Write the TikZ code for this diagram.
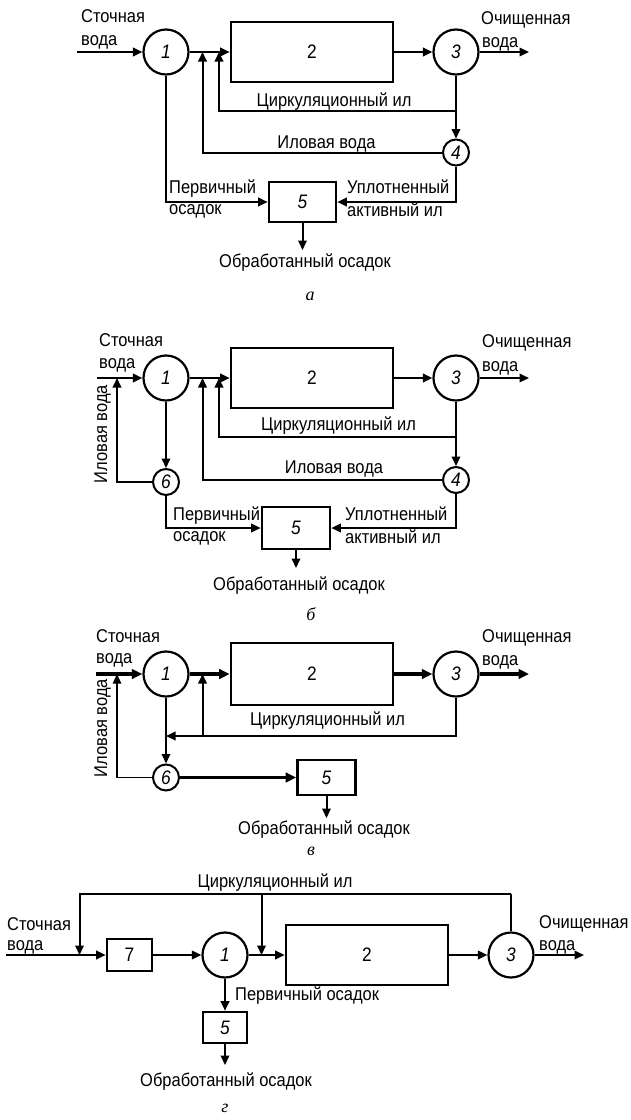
\documentclass[tikz,border=0pt]{standalone}
\usepackage{fontspec}
\setmainfont[FakeStretch=0.89]{Liberation Sans}
\newfontfamily\figserif{Liberation Serif}
\usetikzlibrary{arrows.meta}
\begin{document}
\begin{tikzpicture}[x=1pt,y=-1pt,
  every node/.style={inner sep=0pt},
  lab/.style={font=\fontsize{18.5}{20}\selectfont},
  lw/.style={anchor=base west, lab},
  lc/.style={anchor=base, lab},
  vlab/.style={lab, rotate=90, anchor=base},
  num/.style={font=\fontsize{19.5}{20}\selectfont\itshape},
  nup/.style={font=\fontsize{19.5}{20}\selectfont},
  figlab/.style={anchor=base, font=\figserif\itshape\fontsize{18}{20}\selectfont},
  bigc/.style={circle, draw, line width=2.2pt, minimum size=45pt},
  smc/.style={circle, draw, line width=2pt, minimum size=26pt},
  bx/.style={rectangle, draw, line width=2.6pt},
  ln/.style={line width=2pt},
  arr/.style={ln, -{Triangle[length=9.5pt,width=8.5pt]}},
  tk/.style={line width=3.4pt, -{Triangle[length=10.5pt,width=9.5pt]}},
  thn/.style={line width=1.3pt, -{Triangle[length=9.5pt,width=8.5pt]}}
]
\path[use as bounding box, fill=white] (0,0) rectangle (631,1120);

% ---------------- panel a ----------------
\coordinate (ina) at (77,52);
\node[bigc,num] (c1a) at (166,52) {1};
\node[bx,nup,minimum width=162pt,minimum height=60pt] (b2a) at (312,52) {2};
\node[bigc,num] (c3a) at (456,52) {3};
\coordinate (outa) at (529,52);
\node[smc,num] (c4a) at (456,152.5) {4};
\node[bx,num,minimum width=67pt,minimum height=40pt] (b5a) at (302.5,202) {5};
\coordinate (ka) at (456,111);
\coordinate (ra1) at (219,52);
\coordinate (ra2) at (202.5,52);
\coordinate (oa) at (302.5,250);
\draw[arr] (ina) -- (c1a);
\draw[arr] (c1a) -- (b2a);
\draw[arr] (b2a) -- (c3a);
\draw[arr] (c3a) -- (outa);
\draw[arr] (c3a) -- (c4a);
\draw[arr] (ka) -| (ra1);
\draw[arr] (c4a) -| (ra2);
\draw[arr] (c1a) |- (b5a);
\draw[arr] (c4a) |- (b5a);
\draw[arr] (b5a) -- (oa);
\node[lw] (ta1) at (81,22) {Сточная};
\node[lw] (ta2) at (81,45) {вода};
\node[lw] (ta3) at (481,24) {Очищенная};
\node[lw] (ta4) at (482,47) {вода};
\node[lc] (ta5) at (334,106) {Циркуляционный ил};
\node[lc] (ta6) at (326.5,148) {Иловая вода};
\node[lw] (ta7) at (169,193) {Первичный};
\node[lw] (ta8) at (169,214) {осадок};
\node[lw] (ta9) at (347,193) {Уплотненный};
\node[lw] (ta10) at (347,216) {активный ил};
\node[lc] (ta11) at (305,267) {Обработанный осадок};
\node[figlab] (fa) at (310,300) {а};

% ---------------- panel b ----------------
\coordinate (inb) at (96.5,378);
\node[bigc,num] (c1b) at (166,378) {1};
\node[bx,nup,minimum width=162pt,minimum height=60pt] (b2b) at (312,378) {2};
\node[bigc,num] (c3b) at (456,378) {3};
\coordinate (outb) at (529,378);
\node[smc,num] (c6b) at (166,482) {6};
\node[smc,num] (c4b) at (456,480) {4};
\node[bx,num,minimum width=68pt,minimum height=42pt] (b5b) at (296,528) {5};
\coordinate (kb) at (456,437);
\coordinate (rb1) at (219,378);
\coordinate (rb2) at (202.5,378);
\coordinate (lb) at (117,378);
\coordinate (ob) at (296,568);
\draw[arr] (inb) -- (c1b);
\draw[arr] (c1b) -- (b2b);
\draw[arr] (b2b) -- (c3b);
\draw[arr] (c3b) -- (outb);
\draw[arr] (c3b) -- (c4b);
\draw[arr] (kb) -| (rb1);
\draw[arr] (c4b) -| (rb2);
\draw[arr] (c4b) |- (b5b);
\draw[arr] (c1b) -- (c6b);
\draw[arr] (c6b) -| (lb);
\draw[arr] (c6b) |- (b5b);
\draw[arr] (b5b) -- (ob);
\node[lw] (tb1) at (99,346) {Сточная};
\node[lw] (tb2) at (99,368) {вода};
\node[lw] (tb3) at (482,347) {Очищенная};
\node[lw] (tb4) at (482,371) {вода};
\node[lc] (tb5) at (338.5,430) {Циркуляционный ил};
\node[lc] (tb6) at (334,473) {Иловая вода};
\node[lw] (tb7) at (173,520) {Первичный};
\node[lw] (tb8) at (173,541) {осадок};
\node[lw] (tb9) at (345,520) {Уплотненный};
\node[lw] (tb10) at (345,543) {активный ил};
\node[lc] (tb11) at (299,590) {Обработанный осадок};
\node[vlab] (tb12) at (107,434) {Иловая вода};
\node[figlab] (fb) at (311,620) {б};

% ---------------- panel v ----------------
\coordinate (inc) at (96,674);
\node[bigc,num] (c1c) at (166,674) {1};
\node[bx,nup,minimum width=162pt,minimum height=62pt] (b2c) at (312,674) {2};
\node[bigc,num] (c3c) at (456,674) {3};
\coordinate (outc) at (529,674);
\node[smc,num] (c6c) at (166,777.5) {6};
\node[bx,num,minimum width=58pt,minimum height=35pt] (b5c) at (326.5,777.5) {5};
\coordinate (pc) at (166,736);
\coordinate (jc) at (202.5,736);
\coordinate (rc) at (202.5,674);
\coordinate (lc1) at (117,674);
\coordinate (oc) at (326.5,818);
\draw[tk] (inc) -- (c1c);
\draw[tk] (c1c) -- (b2c);
\draw[tk] (b2c) -- (c3c);
\draw[tk] (c3c) -- (outc);
\draw[arr] (c3c) |- (pc);
\draw[arr] (jc) -- (rc);
\draw[arr] (c1c) -- (c6c);
\draw[thn] (c6c) -| (lc1);
\draw[tk] (c6c) -- (b5c);
\draw[arr] (b5c) -- (oc);
\node[lw] (tc1) at (96,642) {Сточная};
\node[lw] (tc2) at (96,663) {вода};
\node[lw] (tc3) at (482,642) {Очищенная};
\node[lw] (tc4) at (482,665) {вода};
\node[lc] (tc5) at (327.5,725) {Циркуляционный ил};
\node[vlab] (tc6) at (107,728) {Иловая вода};
\node[lc] (tc7) at (324,834) {Обработанный осадок};
\node[figlab] (fc) at (311,855) {в};

% ---------------- panel g ----------------
\coordinate (ind) at (6,955);
\node[bx,nup,minimum width=45pt,minimum height=32pt] (b7d) at (129.5,955) {7};
\node[bigc,num] (c1d) at (225,955) {1};
\node[bx,nup,minimum width=162pt,minimum height=60pt] (b2d) at (367,955) {2};
\node[bigc,num] (c3d) at (511,955) {3};
\coordinate (outd) at (584,955);
\node[bx,num,minimum width=44pt,minimum height=31pt] (b5d) at (225,1027.5) {5};
\coordinate (od) at (225,1065);
\coordinate (gL) at (79.5,955);
\coordinate (gM) at (261.5,955);
\coordinate (gT) at (261.5,894);
\coordinate (gR) at (511,894);
\draw[arr] (ind) -- (b7d);
\draw[arr] (b7d) -- (c1d);
\draw[arr] (c1d) -- (b2d);
\draw[arr] (b2d) -- (c3d);
\draw[arr] (c3d) -- (outd);
\draw[ln] (c3d) -- (gR);
\draw[arr] (gR) -| (gL);
\draw[arr] (gT) -- (gM);
\draw[arr] (c1d) -- (b5d);
\draw[arr] (b5d) -- (od);
\node[lw] (td1) at (7,930) {Сточная};
\node[lw] (td2) at (7,950) {вода};
\node[lw] (td3) at (539,928) {Очищенная};
\node[lw] (td4) at (539,950) {вода};
\node[lc] (td5) at (275,887) {Циркуляционный ил};
\node[lw] (td6) at (235,1000) {Первичный осадок};
\node[lc] (td7) at (226,1086) {Обработанный осадок};
\node[figlab] (fd) at (225,1112) {г};
\end{tikzpicture}
\end{document}
